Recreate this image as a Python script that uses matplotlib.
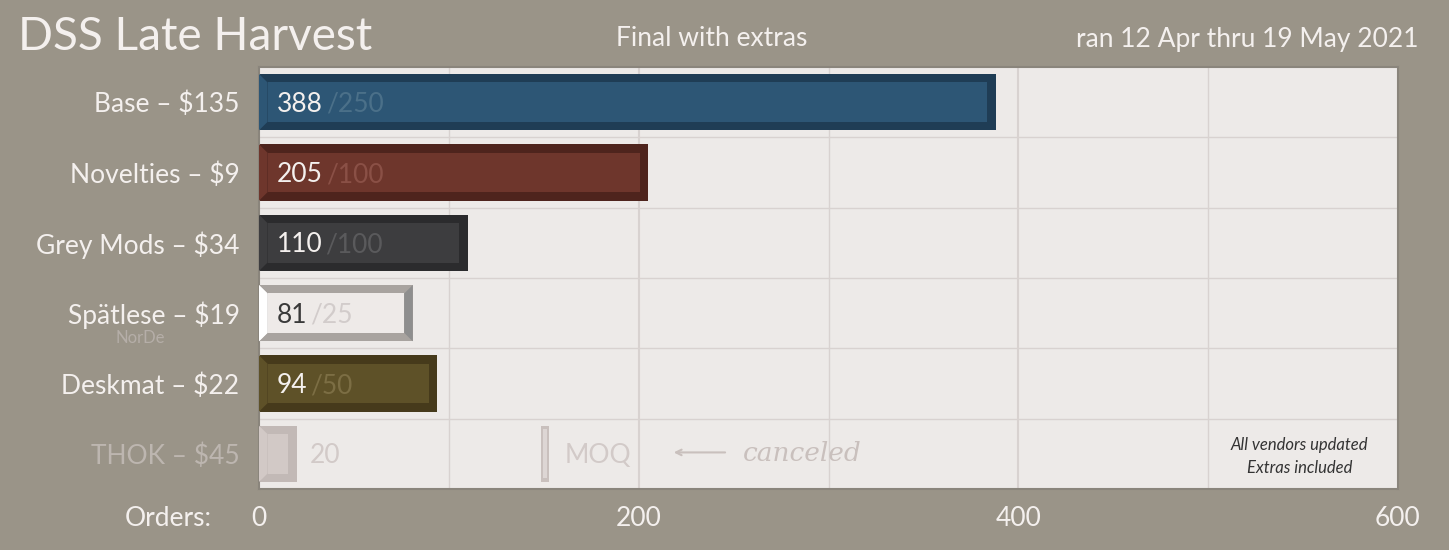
import matplotlib
matplotlib.use("Agg")
import matplotlib.pyplot as plt
from matplotlib.patches import Rectangle, Polygon

plt.rcParams['font.family'] = ['Lato', 'DejaVu Sans']

categories = ["Base – $135", "Novelties – $9", "Grey Mods – $34", "Spätlese – $19", "Deskmat – $22", "THOK – $45"]
orders = [388, 205, 110, 81, 94, 20]
moq = [250, 100, 100, 25, 50, None]
thok_moq = 150
fill = ["#2d5675", "#6e362c", "#3d3d3f", "#eeeae8", "#5e5128", "#d2c9c6"]
edge_dark = ["#1f3d55", "#4e241d", "#2b2b2d", "#a8a39f", "#463a1b", "#c2b9b6"]
num_col = ["#f4f0ee", "#f4f0ee", "#f4f0ee", "#3a3a3a", "#f4f0ee", "#d2cac8"]
moq_col = ["#4b7089", "#8a5046", "#5a5a5c", "#d2cccb", "#7c6e44", "#d2cac8"]

BG = "#9a9488"
fig = plt.figure(figsize=(14.49, 5.5), dpi=100, facecolor=BG)
ax = fig.add_axes([259/1449, 1-489/550, (1398-259)/1449, (489-67)/550])
ax.set_facecolor("#edeae8")
ax.set_xlim(0, 600)
n = len(categories)
ax.set_ylim(n - 0.5, -0.5)
for x in range(100, 600, 100):
    ax.axvline(x, color="#d8d2d0", lw=1.5 if x % 200 == 0 else 1, zorder=1)
for i in range(n - 1):
    ax.axhline(i + 0.5, color="#d8d2d0", lw=1, zorder=1)

h = 0.8
ix, iy = 4.5, 0.12
for i, (v, f, e) in enumerate(zip(orders, fill, edge_dark)):
    y0 = i - h/2
    ax.add_patch(Rectangle((0, y0), v, h, facecolor=e, edgecolor="none", zorder=2))
    ax.add_patch(Polygon([(0, y0), (ix, y0+iy), (ix, y0+h-iy), (0, y0+h)], closed=True,
                         facecolor=f, edgecolor="none", zorder=3))
    if i == 3:
        ax.add_patch(Polygon([(v, y0), (v-ix, y0+iy), (v-ix, y0+h-iy), (v, y0+h)], closed=True,
                             facecolor="#8e8e8e", edgecolor="none", zorder=3))
        ax.add_patch(Polygon([(0, y0), (ix, y0+iy), (ix, y0+h-iy), (0, y0+h)], closed=True,
                             facecolor="white", edgecolor="none", zorder=3))
    ax.add_patch(Rectangle((ix, y0+iy), v-2*ix, h-2*iy, facecolor=f, edgecolor="none", zorder=3))

ax.add_patch(Rectangle((thok_moq-1.5, 5-h/2), 4.5, h, facecolor="#c9c0bd", edgecolor="none", zorder=2))
ax.add_patch(Rectangle((thok_moq-0.3, 5-h/2+0.05), 2.0, h-0.1, facecolor="#ddd6d4", edgecolor="none", zorder=3))

fig.canvas.draw()
for i, v in enumerate(orders):
    t = ax.text(9.5 if i < 5 else 26.5, i + 0.03, str(v), color=num_col[i], fontsize=19, va="center", ha="left", zorder=5)
    if moq[i] is not None:
        ax.annotate("/" + str(moq[i]), xy=(1, 0.5), xycoords=t, xytext=(2, 0), textcoords="offset points",
                    color=moq_col[i], fontsize=19, va="center", ha="left", zorder=5)
ax.text(161, 5 + 0.03, "MOQ", color="#d2cac8", fontsize=19, va="center", ha="left", zorder=5)
ax.annotate("", xy=(217, 4.98), xytext=(247, 4.98),
            arrowprops=dict(arrowstyle="->", color="#c9c0bd", lw=1.5))
ax.text(255, 5.0, "canceled", color="#c9c0bd", fontsize=19, style="italic", va="center", ha="left",
        family=["DejaVu Serif"])
ax.text(548, 4.88, "All vendors updated", fontsize=12, style="italic", color="#333", ha="center", va="center")
ax.text(548, 5.2, "Extras included", fontsize=12, style="italic", color="#333", ha="center", va="center")

ax.set_yticks(range(n))
ax.set_yticklabels(categories, fontsize=19)
for i, lbl in enumerate(ax.get_yticklabels()):
    lbl.set_color("#f4f0ee" if i < 5 else "#bdb6b0")
ax.tick_params(axis="y", length=0, pad=14)
ax.set_xticks([0, 200, 400, 600])
ax.set_xticklabels(["0", "200", "400", "600"], fontsize=19, color="#f4f0ee")
ax.tick_params(axis="x", length=0, pad=12)
fig.text(212/1449, 1-518/550, "Orders:", fontsize=19, color="#f4f0ee", ha="right", va="center")
fig.text(140/1449, 1-338/550, "NorDe", fontsize=12, color="#b5aea8", ha="center", va="center")
for s in ax.spines.values():
    s.set_color("#8a857c"); s.set_linewidth(1.5)

fig.text(18/1449, 1-37/550, "DSS Late Harvest", fontsize=33, color="#f4f0ee", ha="left", va="center")
fig.text(712/1449, 1-39/550, "Final with extras", fontsize=19, color="#f4f0ee", ha="center", va="center")
fig.text(1418/1449, 1-39/550, "ran 12 Apr thru 19 May 2021", fontsize=19, color="#f4f0ee", ha="right", va="center")

fig.savefig("out.png", dpi=100, facecolor=BG)
